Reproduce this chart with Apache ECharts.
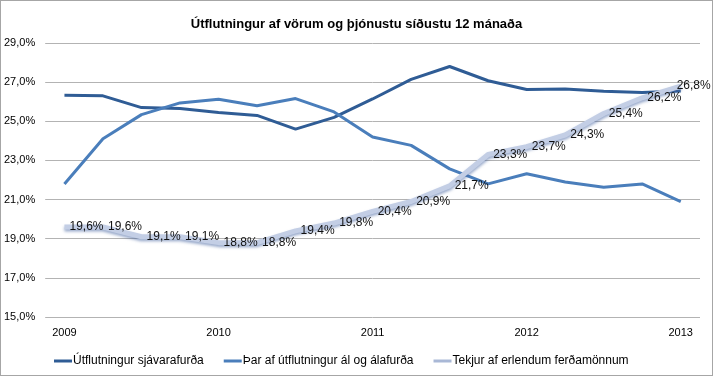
<!DOCTYPE html>
<html>
<head>
<meta charset="utf-8">
<script src="https://cdn.jsdelivr.net/npm/echarts@6/dist/echarts.min.js"></script>
<style>
  html, body { margin: 0; padding: 0; background: #fff; }
  #main { width: 713px; height: 376px; box-sizing: border-box; border: 1px solid #a6a6a6; }
</style>
</head>
<body>
<div id="main"></div>
<script>
var quarters = ['2009 Q1','2009 Q2','2009 Q3','2009 Q4','2010 Q1','2010 Q2','2010 Q3','2010 Q4',
	'2011 Q1','2011 Q2','2011 Q3','2011 Q4','2012 Q1','2012 Q2','2012 Q3','2012 Q4','2013 Q1'];
var sjavarafurdir = [26.33, 26.3, 25.7, 25.65, 25.45, 25.3, 24.6, 25.2, 26.14, 27.14, 27.8, 27.07, 26.62, 26.65, 26.54, 26.47, 26.55];
var alafurdir = [21.8, 24.11, 25.34, 25.94, 26.13, 25.79, 26.16, 25.48, 24.2, 23.77, 22.57, 21.8, 22.32, 21.9, 21.63, 21.8, 20.9];
var ferdamenn = [19.6, 19.6, 19.1, 19.1, 18.8, 18.8, 19.4, 19.8, 20.4, 20.9, 21.7, 23.3, 23.7, 24.3, 25.4, 26.2, 26.8];
var seriesNames = ['Útflutningur sjávarafurða', 'Þar af útflutningur ál og álafurða', 'Tekjur af erlendum ferðamönnum'];

function pct(v) {
	return v.toFixed(1).replace('.', ',') + '%';
}

var ferdaData = [];
for (var i = 0; i < ferdamenn.length; i++) {
	var item = { value: ferdamenn[i] };
	if (i == ferdamenn.length - 1) {
		// last label is pulled left so it stays inside the chart
		item.label = { position: [-4, 0], align: 'left', verticalAlign: 'middle' };
	}
	ferdaData.push(item);
}

var myChart = echarts.init(document.getElementById('main'));
var option = {
	animation: false,
	textStyle: { fontFamily: 'Liberation Sans' },
	title: {
		text: 'Útflutningur af vörum og þjónustu síðustu 12 mánaða',
		left: 'center',
		top: 12,
		textStyle: { fontSize: 13, fontWeight: 'bold', color: '#000', fontFamily: 'Liberation Sans' }
	},
	legend: {
		left: 48,
		top: 349,
		itemWidth: 18,
		itemHeight: 3,
		itemGap: 20,
		icon: 'rect',
		textStyle: { fontSize: 12, color: '#000', padding: [0, 0, 0, -4] },
		data: seriesNames
	},
	grid: {
		left: 44,
		right: 12,
		top: 42,
		bottom: 58
	},
	xAxis: {
		type: 'category',
		data: quarters,
		boundaryGap: true,
		axisLine: { show: false },
		axisTick: { show: false },
		axisLabel: {
			interval: 3,
			color: '#000',
			fontSize: 11,
			margin: 10,
			formatter: function(v) { return v.slice(0, 4); }
		}
	},
	yAxis: {
		type: 'value',
		min: 15,
		max: 29,
		interval: 2,
		axisLine: { show: false },
		axisTick: { show: false },
		splitLine: { lineStyle: { color: '#b3b3b3', width: 1 } },
		axisLabel: {
			color: '#000',
			fontSize: 11,
			margin: 10,
			formatter: function(v) { return pct(v); }
		}
	},
	series: [
		{
			name: seriesNames[0],
			type: 'line',
			data: sjavarafurdir,
			showSymbol: false,
			symbol: 'none',
			itemStyle: { color: '#2f5c95' },
			lineStyle: { color: '#2f5c95', width: 3 }
		},
		{
			name: seriesNames[1],
			type: 'line',
			data: alafurdir,
			showSymbol: false,
			symbol: 'none',
			itemStyle: { color: '#4a7ebb' },
			lineStyle: { color: '#4a7ebb', width: 3 }
		},
		{
			name: seriesNames[2],
			type: 'line',
			data: ferdaData,
			showSymbol: true,
			showAllSymbol: true,
			symbol: 'circle',
			symbolSize: 0.1,
			itemStyle: { color: '#a9b8d6' },
			lineStyle: {
				color: '#c3cee5',
				width: 5,
				shadowColor: 'rgba(70,100,160,0.55)',
				shadowBlur: 3,
				shadowOffsetY: 2
			},
			label: {
				show: true,
				position: 'right',
				distance: 5,
				color: '#111',
				fontSize: 12,
				formatter: function(p) { return pct(p.value); }
			},
			labelLayout: { hideOverlap: false },
			z: 3
		}
	]
};
myChart.setOption(option);
</script>
</body>
</html>
